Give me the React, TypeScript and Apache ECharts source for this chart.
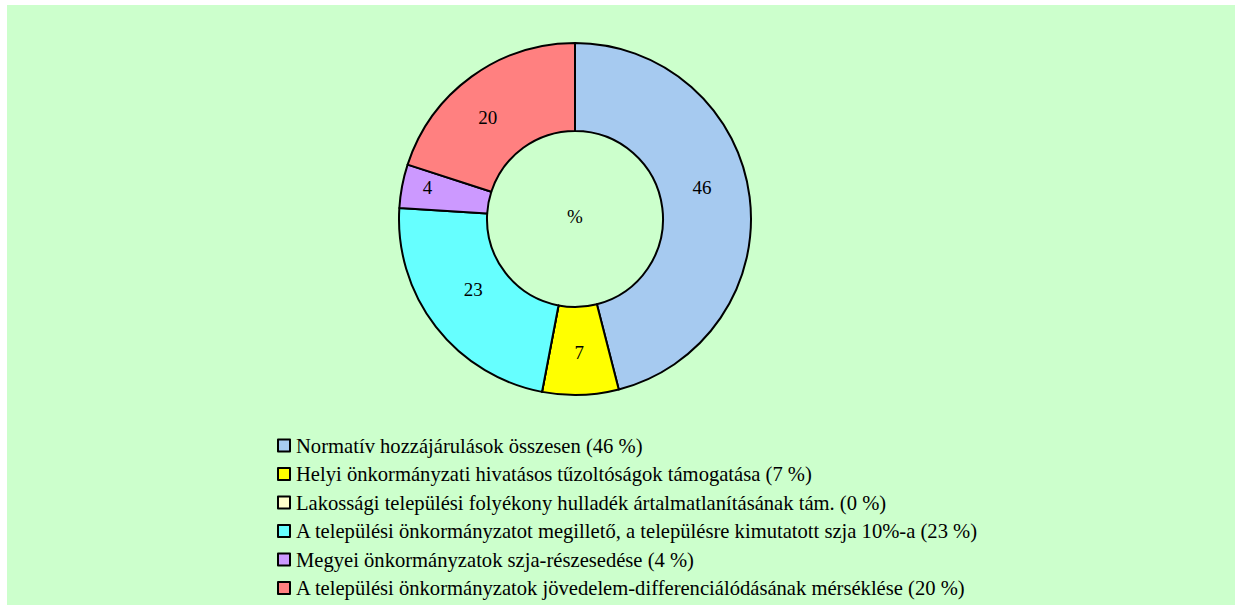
import React, { useEffect, useRef } from "react";
import * as echarts from "echarts";

const categories = [
  "Normatív hozzájárulások összesen",
  "Helyi önkormányzati hivatásos tűzoltóságok támogatása",
  "Lakossági települési folyékony hulladék ártalmatlanításának tám.",
  "A települési önkormányzatot megillető, a településre kimutatott szja 10%-a",
  "Megyei önkormányzatok szja-részesedése",
  "A települési önkormányzatok jövedelem-differenciálódásának mérséklése",
];
const values = [46, 7, 0, 23, 4, 20];
const colors = ["#A6CAF0", "#FFFF00", "#FFFFCC", "#66FFFF", "#CC99FF", "#FF8080"];
const centerTitle = "%";
// label nudges (style only) to mimic the original label placement
const labelOffsets = [[-7, -15], [0, -1], [0, 0], [5, -12], [-15, -6], [-8, 8]];

const FONT = "'Liberation Serif', 'Times New Roman', serif";

export default function App() {
  const ref = useRef<HTMLDivElement>(null);
  useEffect(() => {
    if (!ref.current) return;
    const chart = echarts.init(ref.current, null, { renderer: "svg" });
    const valueOf: Record<string, number> = {};
    categories.forEach((c, i) => (valueOf[c] = values[i]));
    chart.setOption({
      animation: false,
      backgroundColor: "#CCFFCC",
      graphic: [
        {
          type: "text",
          x: 568,
          y: 211,
          style: {
            text: centerTitle,
            fontFamily: FONT,
            fontSize: 19,
            fill: "#000",
            textAlign: "center",
            textVerticalAlign: "middle",
          },
        },
      ],
      legend: {
        orient: "vertical",
        left: 270,
        top: 430,
        height: 200,
        padding: 0,
        itemWidth: 12,
        itemHeight: 12,
        itemGap: 7.5,
        icon: "rect",
        selectedMode: false,
        itemStyle: { borderColor: "#000", borderWidth: 2 },
        textStyle: { fontFamily: FONT, fontSize: 20.6, color: "#000", padding: [0, 0, 0, 1], lineHeight: 21 },
        formatter: (name: string) => `${name} (${valueOf[name]} %)`,
        data: categories,
      },
      series: [
        {
          type: "pie",
          center: [568, 214],
          radius: [88, 176],
          startAngle: 90,
          clockwise: true,
          avoidLabelOverlap: false,
          itemStyle: { borderColor: "#000", borderWidth: 2 },
          label: {
            show: true,
            position: "inside",
            color: "#000",
            fontFamily: FONT,
            fontSize: 19,
            formatter: (p: any) => (p.value ? String(p.value) : ""),
          },
          labelLine: { show: false },
          emphasis: { disabled: true },
          data: categories.map((c, i) => ({
            name: c,
            value: values[i],
            itemStyle: { color: colors[i] },
            label: { offset: labelOffsets[i] },
          })),
        },
      ],
    });
    return () => chart.dispose();
  }, []);
  return (
    <div
      ref={ref}
      style={{ position: "absolute", left: 7, top: 5, width: 1228, height: 600 }}
    />
  );
}
